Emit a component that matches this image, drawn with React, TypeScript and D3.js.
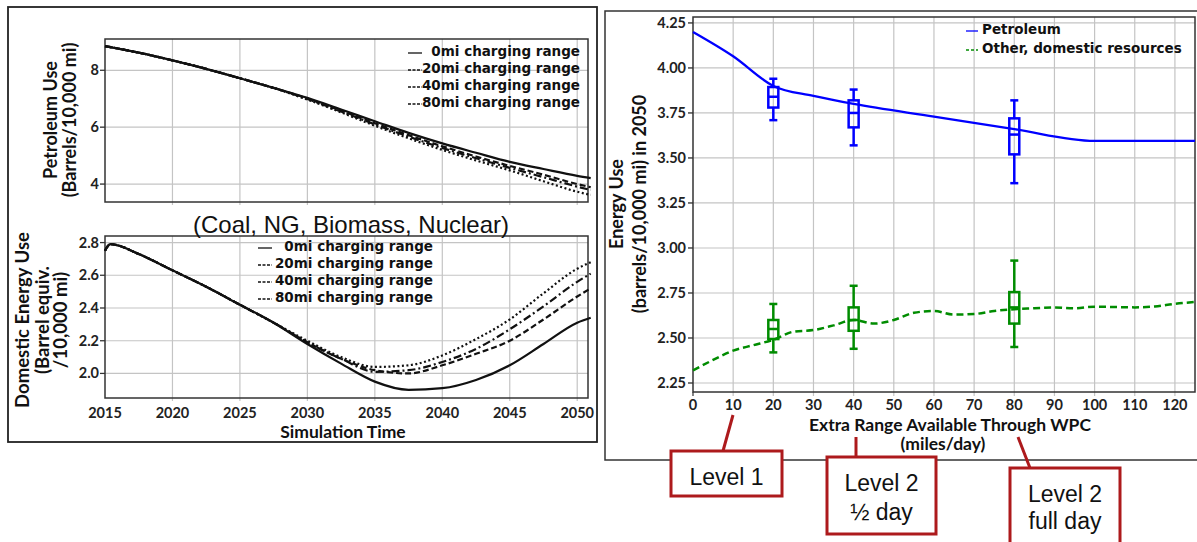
import { useEffect, useRef } from "react";
import * as d3 from "d3";

const W = 1197;
const H = 542;

// left panel: simulation years
const YEARS = [2015, 2017.5, 2020, 2022.5, 2025, 2027.5, 2030, 2032.5, 2035, 2037.5, 2040, 2042.5, 2045, 2047.5, 2050, 2051];
const PETRO_0 = [8.85, 8.62, 8.35, 8.05, 7.72, 7.38, 7.03, 6.62, 6.21, 5.8, 5.43, 5.1, 4.78, 4.53, 4.29, 4.21];
const PETRO_20 = [8.85, 8.62, 8.35, 8.05, 7.72, 7.38, 7.01, 6.58, 6.14, 5.72, 5.33, 4.97, 4.64, 4.33, 4.0, 3.89];
const PETRO_40 = [8.85, 8.62, 8.35, 8.05, 7.72, 7.38, 6.99, 6.55, 6.1, 5.67, 5.27, 4.91, 4.57, 4.24, 3.91, 3.79];
const PETRO_80 = [8.85, 8.62, 8.35, 8.05, 7.72, 7.38, 6.97, 6.52, 6.05, 5.61, 5.2, 4.83, 4.48, 4.1, 3.73, 3.62];

const DOM_YEARS = [2015, 2015.4, 2017.5, 2020, 2022.5, 2025, 2027.5, 2030, 2032.5, 2035, 2037.5, 2040, 2042.5, 2045, 2047.5, 2050, 2051];
const DOM_0 = [2.75, 2.79, 2.73, 2.63, 2.53, 2.42, 2.31, 2.18, 2.06, 1.95, 1.9, 1.91, 1.96, 2.05, 2.18, 2.31, 2.34];
const DOM_20 = [2.75, 2.79, 2.73, 2.63, 2.53, 2.42, 2.31, 2.19, 2.09, 2.02, 2.0, 2.05, 2.12, 2.2, 2.33, 2.47, 2.52];
const DOM_40 = [2.75, 2.79, 2.73, 2.63, 2.53, 2.42, 2.31, 2.19, 2.09, 2.01, 2.02, 2.07, 2.15, 2.27, 2.41, 2.56, 2.61];
const DOM_80 = [2.75, 2.79, 2.73, 2.63, 2.53, 2.42, 2.31, 2.2, 2.1, 2.04, 2.05, 2.11, 2.21, 2.33, 2.49, 2.64, 2.68];

const RANGE_LABELS = ["0mi charging range", "20mi charging range", "40mi charging range", "80mi charging range"];
const DASHES = [null, "6,3", "8,3,2,3", "2,2.5"];

// right panel: extra range (miles/day)
const PET_X = [0, 10, 20, 30, 40, 60, 80, 100, 125];
const PET_Y = [4.2, 4.065, 3.9, 3.845, 3.8, 3.73, 3.66, 3.595, 3.595];
const OTHER_X = [0, 5, 10, 15, 20, 25, 30, 35, 40, 45, 50, 55, 60, 65, 70, 75, 80, 85, 90, 95, 100, 105, 110, 115, 120, 125];
const OTHER_Y = [2.32, 2.378, 2.43, 2.46, 2.49, 2.535, 2.544, 2.57, 2.6, 2.58, 2.6, 2.64, 2.65, 2.63, 2.633, 2.65, 2.66, 2.665, 2.67, 2.665, 2.674, 2.672, 2.67, 2.675, 2.69, 2.7];

const BOX_X = [20, 40, 80];
const PET_BOX = {
  lo: [3.71, 3.57, 3.36],
  q1: [3.78, 3.67, 3.52],
  med: [3.84, 3.75, 3.63],
  q3: [3.894, 3.82, 3.72],
  hi: [3.94, 3.88, 3.82],
};
const OTHER_BOX = {
  lo: [2.42, 2.44, 2.45],
  q1: [2.494, 2.54, 2.58],
  med: [2.55, 2.6, 2.67],
  q3: [2.6, 2.67, 2.755],
  hi: [2.689, 2.79, 2.93],
};

const CALIBRI = "Lato, 'Open Sans', sans-serif";
const DEJAVU = "'DejaVu Sans', sans-serif";
const ARIAL = "'Liberation Sans', Arial, sans-serif";
const RED = "#ad1a1c";
const GRID = "#c4c4c4";

export default function App() {
  const svgRef = useRef<SVGSVGElement>(null);

  useEffect(() => {
    const svg = d3.select(svgRef.current);
    svg.selectAll("*").remove();

    svg.append("rect").attr("width", W).attr("height", H).attr("fill", "white");

    // outer frames
    svg.append("rect").attr("x", 8).attr("y", 7).attr("width", 589).attr("height", 435)
      .attr("fill", "none").attr("stroke", "#222").attr("stroke-width", 1.8);
    svg.append("rect").attr("x", 605).attr("y", 11).attr("width", 600).attr("height", 449)
      .attr("fill", "none").attr("stroke", "#333").attr("stroke-width", 1.5);

    // ---------- left panels ----------
    const xL = d3.scaleLinear().domain([2015, 2050.8]).range([105, 588]);
    const yTop = d3.scaleLinear().domain([3.37, 9.1]).range([202, 39]);
    const yBot = d3.scaleLinear().domain([1.85, 2.84]).range([398, 236]);
    const yearTicks = d3.range(2015, 2051, 5);

    const drawFrame = (y: any, yTicks: number[], fmt: (v: number) => string, showX: boolean) => {
      const [y0, y1] = y.range();
      const g = svg.append("g");
      g.selectAll(".vg").data(yearTicks.slice(1)).join("line")
        .attr("x1", (d) => xL(d)).attr("x2", (d) => xL(d))
        .attr("y1", y1).attr("y2", y0 + 3)
        .attr("stroke", GRID).attr("stroke-width", 1.2);
      g.selectAll(".hg").data(yTicks).join("line")
        .attr("x1", 100).attr("x2", 588)
        .attr("y1", (d) => y(d)).attr("y2", (d) => y(d))
        .attr("stroke", GRID).attr("stroke-width", 1.2);
      g.selectAll(".hgt").data(yTicks).join("line")
        .attr("x1", 100).attr("x2", 105)
        .attr("y1", (d) => y(d)).attr("y2", (d) => y(d))
        .attr("stroke", "#333").attr("stroke-width", 1.2);
      g.append("rect").attr("x", 105).attr("y", y1).attr("width", 483).attr("height", y0 - y1)
        .attr("fill", "none").attr("stroke", "#333").attr("stroke-width", 1.5);
      g.selectAll(".yl").data(yTicks).join("text")
        .attr("x", 99).attr("y", (d) => y(d) + 5)
        .attr("text-anchor", "end").attr("font-family", CALIBRI).attr("font-weight", 700)
        .attr("font-size", 14.5).attr("fill", "#222").text(fmt);
      if (showX) {
        g.selectAll(".xl").data(yearTicks).join("text")
          .attr("x", (d) => xL(d)).attr("y", 418)
          .attr("text-anchor", "middle").attr("font-family", CALIBRI).attr("font-weight", 700)
          .attr("font-size", 14.5).attr("fill", "#222").text((d) => String(d));
      }
    };

    drawFrame(yTop, [4, 6, 8], (d) => d3.format("d")(d), false);
    drawFrame(yBot, [2.0, 2.2, 2.4, 2.6, 2.8], d3.format(".1f"), true);

    const drawSeries = (xs: number[], series: number[][], y: any) => {
      const line = d3.line<number>()
        .x((_, i) => xL(xs[i]))
        .y((d) => y(d))
        .curve(d3.curveMonotoneX);
      // draw 80 first so solid is on top
      [3, 2, 1, 0].forEach((k) => {
        svg.append("path").datum(series[k]).attr("d", line)
          .attr("fill", "none").attr("stroke", "#111")
          .attr("stroke-width", 2.2)
          .attr("stroke-dasharray", DASHES[k] ?? "none");
      });
    };
    drawSeries(YEARS, [PETRO_0, PETRO_20, PETRO_40, PETRO_80], yTop);
    drawSeries(DOM_YEARS, [DOM_0, DOM_20, DOM_40, DOM_80], yBot);

    const drawLegend = (xEnd: number, sx: number, baseY: number[]) => {
      RANGE_LABELS.forEach((lab, i) => {
        svg.append("line").attr("x1", sx).attr("x2", sx + 14)
          .attr("y1", baseY[i] - 3).attr("y2", baseY[i] - 3)
          .attr("stroke", "#111").attr("stroke-width", 1.3)
          .attr("stroke-dasharray", DASHES[i] ? "3,1.5" : "none");
        svg.append("text").attr("x", xEnd).attr("y", baseY[i])
          .attr("text-anchor", "end").attr("font-family", DEJAVU).attr("font-weight", 700)
          .attr("font-size", 13.5).attr("fill", "#111").text(lab);
      });
    };
    drawLegend(580, 408, [56, 73, 90, 107]);
    drawLegend(433, 258, [251, 268, 285, 302]);

    // left titles
    const vText = (x: number, y: number, txt: string, size: number, weight: number, family = CALIBRI) =>
      svg.append("text").attr("transform", `translate(${x},${y}) rotate(-90)`)
        .attr("text-anchor", "middle").attr("font-family", family).attr("font-weight", weight)
        .attr("font-size", size).attr("fill", "#111").text(txt);

    vText(57, 120, "Petroleum Use", 18, 700);
    vText(76, 120, "(Barrels/10,000 mi)", 18, 700);
    vText(29, 320, "Domestic Energy Use", 18.5, 700);
    vText(49, 320, "(Barrel equiv.", 18.5, 700);
    vText(67, 320, "/10,000 mi)", 18.5, 700);

    svg.append("text").attr("x", 351).attr("y", 233).attr("text-anchor", "middle")
      .attr("font-family", ARIAL).attr("font-size", 24).attr("fill", "#111")
      .text("(Coal, NG, Biomass, Nuclear)");

    svg.append("text").attr("x", 343).attr("y", 438).attr("text-anchor", "middle")
      .attr("font-family", CALIBRI).attr("font-weight", 700).attr("font-size", 17.5)
      .attr("fill", "#111").text("Simulation Time");

    // ---------- right panel ----------
    const xR = d3.scaleLinear().domain([0, 125]).range([693, 1195]);
    const yR = d3.scaleLinear().domain([2.2, 4.283]).range([392, 17]);
    const xTicksR = d3.range(0, 121, 10);
    const yTicksR = d3.range(2.25, 4.26, 0.25);

    const gR = svg.append("g");
    gR.selectAll(".vg").data(xTicksR.slice(1)).join("line")
      .attr("x1", (d) => xR(d)).attr("x2", (d) => xR(d))
      .attr("y1", 17).attr("y2", 396)
      .attr("stroke", GRID).attr("stroke-width", 1.2);
    gR.selectAll(".hg").data(yTicksR).join("line")
      .attr("x1", 688).attr("x2", 1195)
      .attr("y1", (d) => yR(d)).attr("y2", (d) => yR(d))
      .attr("stroke", GRID).attr("stroke-width", 1.2);
    gR.selectAll(".ht").data(yTicksR).join("line")
      .attr("x1", 688).attr("x2", 693)
      .attr("y1", (d) => yR(d)).attr("y2", (d) => yR(d))
      .attr("stroke", "#333").attr("stroke-width", 1.2);
    gR.append("line").attr("x1", 693).attr("x2", 693).attr("y1", 392).attr("y2", 396)
      .attr("stroke", "#333").attr("stroke-width", 1.2);
    gR.append("rect").attr("x", 693).attr("y", 17).attr("width", 502).attr("height", 375)
      .attr("fill", "none").attr("stroke", "#333").attr("stroke-width", 1.5);
    gR.selectAll(".yl").data(yTicksR).join("text")
      .attr("x", 686).attr("y", (d) => yR(d) + 5)
      .attr("text-anchor", "end").attr("font-family", CALIBRI).attr("font-weight", 700)
      .attr("font-size", 14.5).attr("fill", "#222").text(d3.format(".2f"));
    gR.selectAll(".xl").data(xTicksR).join("text")
      .attr("x", (d) => xR(d)).attr("y", 410)
      .attr("text-anchor", "middle").attr("font-family", CALIBRI).attr("font-weight", 700)
      .attr("font-size", 14.5).attr("fill", "#222").text((d) => String(d));

    const lineR = (xs: number[]) =>
      d3.line<number>().x((_, i) => xR(xs[i])).y((d) => yR(d)).curve(d3.curveMonotoneX);

    svg.append("path").datum(PET_Y).attr("d", lineR(PET_X))
      .attr("fill", "none").attr("stroke", "#0000ff").attr("stroke-width", 2.3);
    svg.append("path").datum(OTHER_Y).attr("d", lineR(OTHER_X))
      .attr("fill", "none").attr("stroke", "#008c00").attr("stroke-width", 2.5)
      .attr("stroke-dasharray", "7,4");

    const drawBoxes = (b: any, color: string) => {
      BOX_X.forEach((xv, i) => {
        const cx = xR(xv);
        const g = svg.append("g").attr("stroke", color).attr("stroke-width", 2.5).attr("fill", "none");
        g.append("line").attr("x1", cx).attr("x2", cx).attr("y1", yR(b.hi[i])).attr("y2", yR(b.q3[i]));
        g.append("line").attr("x1", cx).attr("x2", cx).attr("y1", yR(b.q1[i])).attr("y2", yR(b.lo[i]));
        g.append("line").attr("x1", cx - 4).attr("x2", cx + 4).attr("y1", yR(b.hi[i])).attr("y2", yR(b.hi[i]));
        g.append("line").attr("x1", cx - 4).attr("x2", cx + 4).attr("y1", yR(b.lo[i])).attr("y2", yR(b.lo[i]));
        g.append("rect").attr("x", cx - 5).attr("width", 10)
          .attr("y", yR(b.q3[i])).attr("height", yR(b.q1[i]) - yR(b.q3[i]));
        g.append("line").attr("x1", cx - 5).attr("x2", cx + 5).attr("y1", yR(b.med[i])).attr("y2", yR(b.med[i]));
      });
    };
    drawBoxes(PET_BOX, "#0000ff");
    drawBoxes(OTHER_BOX, "#008c00");

    // right legend
    const legR = [
      { label: "Petroleum", color: "#0000ff", dash: "none", y: 34 },
      { label: "Other, domestic resources", color: "#008c00", dash: "3,2", y: 53 },
    ];
    legR.forEach((l) => {
      svg.append("line").attr("x1", 966).attr("x2", 978).attr("y1", l.y - 3).attr("y2", l.y - 3)
        .attr("stroke", l.color).attr("stroke-width", 1.3).attr("stroke-dasharray", l.dash);
      svg.append("text").attr("x", 982).attr("y", l.y)
        .attr("font-family", DEJAVU).attr("font-weight", 700).attr("font-size", 13.5)
        .attr("fill", "#111").text(l.label);
    });

    vText(623, 204, "Energy Use", 18, 700);
    vText(646, 204, "(barrels/10,000 mi) in 2050", 18, 700);

    svg.append("text").attr("x", 950).attr("y", 431).attr("text-anchor", "middle")
      .attr("font-family", CALIBRI).attr("font-weight", 700).attr("font-size", 17.5)
      .attr("fill", "#111").text("Extra Range Available Through WPC");
    svg.append("text").attr("x", 943).attr("y", 450).attr("text-anchor", "middle")
      .attr("font-family", CALIBRI).attr("font-weight", 700).attr("font-size", 17.5)
      .attr("fill", "#111").text("(miles/day)");

    // callouts
    const callouts = [
      { lines: ["Level 1"], box: [671, 451, 111, 45], ptr: [733, 415, 723, 451], base: [485] },
      { lines: ["Level 2", "½ day"], box: [827, 457, 109, 77], ptr: [856, 437, 856, 457], base: [491, 520] },
      { lines: ["Level 2", "full day"], box: [1010, 468, 110, 100], ptr: [1018, 437, 1030, 468], base: [502, 529] },
    ];
    callouts.forEach((c) => {
      svg.append("line").attr("x1", c.ptr[0]).attr("y1", c.ptr[1]).attr("x2", c.ptr[2]).attr("y2", c.ptr[3])
        .attr("stroke", RED).attr("stroke-width", 3);
      svg.append("rect").attr("x", c.box[0]).attr("y", c.box[1]).attr("width", c.box[2]).attr("height", c.box[3])
        .attr("fill", "white").attr("stroke", RED).attr("stroke-width", 3);
      c.lines.forEach((t, i) => {
        svg.append("text").attr("x", c.box[0] + c.box[2] / 2).attr("y", c.base[i])
          .attr("text-anchor", "middle").attr("font-family", ARIAL).attr("font-size", 23)
          .attr("fill", "#111").text(t);
      });
    });
  }, []);

  return (
    <svg
      ref={svgRef}
      width={W}
      height={H}
      style={{ position: "absolute", left: 0, top: 0 }}
    ></svg>
  );
}
